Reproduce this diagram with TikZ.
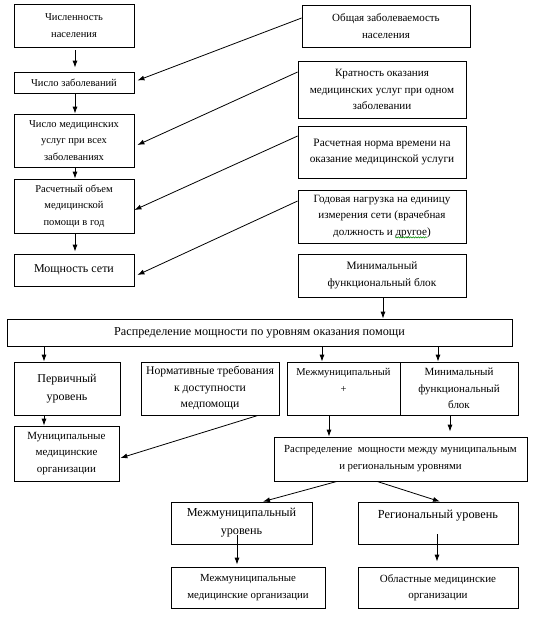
\documentclass[tikz,border=0pt]{standalone}
\usepackage{fontspec}
\setmainfont{Liberation Serif}
\usetikzlibrary{arrows.meta,decorations.pathmorphing}
\newcommand{\bx}[7][]{\node[box,#1,minimum width={#5-#3},minimum height={#6-#4}] (#2) at ({(#3+#5)/2},{(#4+#6)/2}) {#7};}
\tikzset{
  box/.style={draw,line width=0.8pt,inner sep=1pt,align=center,font=\fontsize{10.5}{16.5}\selectfont},
  arr/.style={line width=0.8pt,-{Latex[length=7pt,width=5pt]}},
}
\begin{document}
\begin{tikzpicture}[x=1pt,y=-1pt]
\useasboundingbox (0,0) rectangle (539,622);
% left column
\bx{pop}{14}{4}{134}{47}{Численность\\населения}
\bx{zab}{14}{72}{134}{93}{Число заболеваний}
\bx{usl}{14}{114}{134}{167}{Число медицинских\\услуг при всех\\заболеваниях}
\bx{obm}{14}{179}{134}{233}{Расчетный объем\\медицинской\\помощи в год}
\bx[font=\fontsize{12}{16}\selectfont]{moshch}{14}{254}{134}{286}{Мощность сети}
% right column
\bx[font=\fontsize{11}{16.5}\selectfont]{obsh}{302}{5}{470}{47}{Общая заболеваемость\\населения}
\bx[font=\fontsize{11.1}{16.5}\selectfont]{krat}{298}{61}{466}{118}{Кратность оказания\\медицинских услуг при одном\\заболевании}
\bx[font=\fontsize{11.3}{16.5}\selectfont]{norma}{298}{126}{466}{178}{Расчетная норма времени на\\оказание медицинской услуги}
\bx[font=\fontsize{11.1}{16.5}\selectfont]{god}{298}{190}{466}{243}{Годовая нагрузка на единицу\\измерения сети (врачебная\\должность и другое)}
\bx[font=\fontsize{11.3}{16.5}\selectfont]{minb}{298}{254}{466}{297}{Минимальный\\функциональный блок}
% wide
\bx[font=\fontsize{12.2}{16}\selectfont]{wide}{7}{319}{512}{346}{Распределение мощности по уровням оказания помощи}
\bx[font=\fontsize{12}{18}\selectfont]{perv}{14}{362}{120}{415}{Первичный\\уровень}
\bx[font=\fontsize{11}{16.5}\selectfont]{mun}{14}{426}{119}{481}{Муниципальные\\медицинские\\организации}
\bx[font=\fontsize{11.7}{16.5}\selectfont]{normt}{141}{362}{279}{415}{Нормативные требования\\к доступности\\медпомощи}
\bx{mz}{287}{362}{400}{415}{Межмуниципальный\\+\\~}
\bx[font=\fontsize{11}{16.5}\selectfont]{mf}{400}{362}{518}{415}{Минимальный\\функциональный\\блок}
\bx[font=\fontsize{10.8}{17}\selectfont]{rmr}{274}{437}{527}{481}{Распределение\ \ мощности между муниципальным\\и региональным уровнями}
\bx[font=\fontsize{12.2}{18}\selectfont]{mm}{171}{502}{312}{544}{Межмуниципальный\\уровень}
\bx[font=\fontsize{12.3}{18}\selectfont]{reg}{358}{502}{518}{544}{Региональный уровень\\~}
\bx[font=\fontsize{10.8}{16.5}\selectfont]{mmorg}{171}{567}{325}{608}{Межмуниципальные\\медицинские организации}
\bx[font=\fontsize{11}{16.5}\selectfont]{obl}{358}{567}{518}{608}{Областные медицинские\\организации}
% spell-check squiggle under "другое"
\draw[green!55!black,line width=0.5pt,decorate,decoration={snake,amplitude=0.6pt,segment length=2.5pt}] ([xshift=13pt,yshift=6pt]god.south) -- ([xshift=45pt,yshift=6pt]god.south);
% vertical arrows left column
\draw[arr,shorten <=3pt,shorten >=4pt] ([xshift=1pt]pop.south) -- ([xshift=1pt]zab.north);
\draw[arr] ([xshift=1pt]zab.south) -- ([xshift=1pt]usl.north);
\draw[arr,shorten <=1pt] ([xshift=1pt]usl.south) -- ([xshift=1pt]obm.north);
\draw[arr,shorten >=2pt] ([xshift=1pt]obm.south) -- ([xshift=1pt]moshch.north);
% diagonal arrows
\draw[arr] ([yshift=8pt]obsh.west) -- ([xshift=3pt,yshift=2pt]zab.east);
\draw[arr] ([yshift=17.5pt]krat.west) -- ([xshift=3pt,yshift=-4.5pt]usl.east);
\draw[arr] ([yshift=16pt]norma.west) -- ([yshift=-4pt]obm.east);
\draw[arr] ([yshift=15.5pt]god.west) -- ([xshift=3pt,yshift=-5pt]moshch.east);
% min block to wide
\draw[arr] ([xshift=1pt]minb.south) -- ([xshift=1pt]minb.south |- wide.north);
% wide to levels
\draw[arr] ([xshift=-23pt]perv.north |- wide.south) -- ([xshift=-23pt]perv.north);
\draw[arr] ([xshift=-21.5pt]mz.north |- wide.south) -- ([xshift=-21.5pt]mz.north);
\draw[arr] ([xshift=-21pt]mf.north |- wide.south) -- ([xshift=-21pt]mf.north);
\draw[arr] ([xshift=-23pt]perv.south) -- ([xshift=-23pt]perv.south |- mun.north);
\draw[arr] ([xshift=48pt]normt.south) -- ([xshift=1pt,yshift=-4.5pt]mun.east);
\draw[arr] ([xshift=-14.5pt]mz.south) -- ([xshift=-14.5pt]mz.south |- rmr.north);
\draw[arr,shorten >=5pt] ([xshift=-9pt]mf.south) -- ([xshift=-9pt]mf.south |- rmr.north);
% distribution
\draw[arr] ([xshift=-63.5pt]rmr.south) -- ([xshift=21.5pt]mm.north);
\draw[arr] ([xshift=-23.5pt]rmr.south) -- ([xshift=2pt]reg.north);
\draw[arr,shorten >=2pt] ([xshift=-4.5pt,yshift=9pt]mm.south) -- ([xshift=-4.5pt]mm.south |- mmorg.north);
\draw[arr,shorten >=5pt] ([xshift=-1pt,yshift=10pt]reg.south) -- ([xshift=-1pt]reg.south |- obl.north);
\end{tikzpicture}
\end{document}
